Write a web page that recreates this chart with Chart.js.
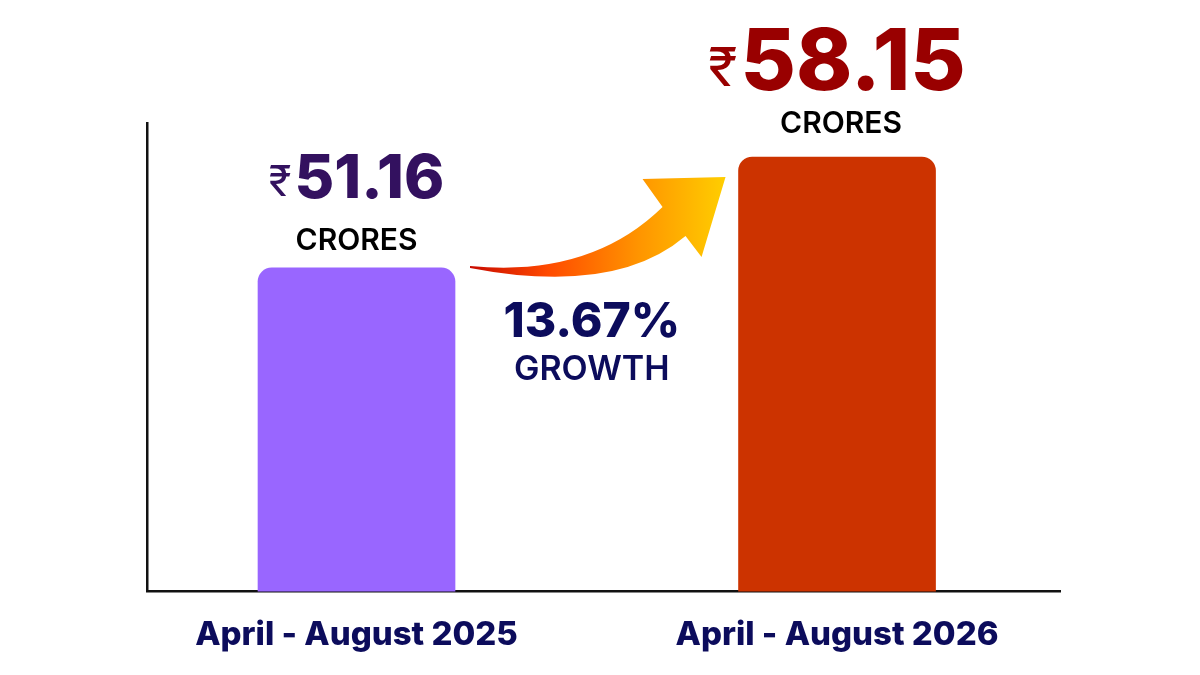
<!DOCTYPE html>
<html>
<head>
<meta charset="utf-8">
<script src="https://cdn.jsdelivr.net/npm/chart.js@4/dist/chart.umd.min.js"></script>
<style>
  html, body { margin: 0; padding: 0; background: #ffffff; }
  #wrap { width: 1200px; height: 675px; }
</style>
</head>
<body>
<div id="wrap"><canvas id="grafico" width="1200" height="675"></canvas></div>
<script>
// dati
var periodi = ['April - August 2025', 'April - August 2026'];
var valori = [51.16, 58.15];           // crore di rupie
var etichette = ['51.16', '58.15'];
var crescita = '13.67%';

var coloriBarre = ['#9966ff', '#cc3300'];
var coloriValori = ['#33115f', '#990000'];
var blu = '#0c0c5c';
var FONT = 'Inter, "Noto Sans", "DejaVu Sans", sans-serif';

// testi sopra le barre + freccia curva
var annotazioni = {
  id: 'annotazioni',
  afterDatasetsDraw: function (chart) {
    var ctx = chart.ctx;
    var barre = chart.getDatasetMeta(0).data;
    ctx.save();

    barre.forEach(function (b, i) {
      var grande = i === 1;
      var sizeNum = grande ? 85 : 61;
      var sizeRs = grande ? 54 : 42;
      ctx.textBaseline = 'alphabetic';
      ctx.font = '800 ' + sizeNum + 'px ' + FONT;
      var wNum = ctx.measureText(etichette[i]).width;
      ctx.font = '400 ' + sizeRs + 'px ' + FONT;
      var wRs = ctx.measureText('₹').width;
      var gap = 3;
      var tot = wRs + gap + wNum;
      var x0 = b.x - tot / 2;
      var base = b.y - (grande ? 67 : 70);
      ctx.fillStyle = coloriValori[i];
      ctx.textAlign = 'left';
      ctx.fillText('₹', x0, base - (grande ? 4 : 2));
      ctx.font = '800 ' + sizeNum + 'px ' + FONT;
      ctx.fillText(etichette[i], x0 + wRs + gap, base);

      ctx.font = '600 30px ' + FONT;
      ctx.fillStyle = '#000000';
      ctx.textAlign = 'center';
      ctx.fillText('CRORES', b.x + (grande ? 4 : 0), b.y - (grande ? 24 : 18));
    });

    // freccia
    var b1 = barre[0], b2 = barre[1];
    var l = b1.x + b1.width / 2;   // bordo destro prima barra
    var t = b1.y;
    var r = b2.x - b2.width / 2;   // bordo sinistro seconda barra
    var t2 = b2.y;
    var g = ctx.createLinearGradient(l + 15, 0, r - 10, 0);
    g.addColorStop(0, '#c80a00');
    g.addColorStop(0.3, '#ff4a00');
    g.addColorStop(0.65, '#ff9400');
    g.addColorStop(1, '#ffd000');
    ctx.fillStyle = g;
    ctx.beginPath();
    ctx.moveTo(l + 15, t - 2);
    ctx.quadraticCurveTo(l + 135, t + 10, r - 76, t2 + 50);
    ctx.lineTo(r - 96, t2 + 22);
    ctx.lineTo(r - 13, t2 + 20);
    ctx.lineTo(r - 37, t2 + 100);
    ctx.lineTo(r - 53, t2 + 79);
    ctx.quadraticCurveTo(l + 160, t + 28, l + 15, t);
    ctx.closePath();
    ctx.fill();

    // crescita
    var cx = (l + r) / 2 - 5;
    ctx.textAlign = 'center';
    ctx.fillStyle = blu;
    ctx.font = '800 48px ' + FONT;
    ctx.fillText(crescita, cx, t + 69);
    ctx.font = '600 34px ' + FONT;
    ctx.fillText('GROWTH', cx, t + 112);

    ctx.restore();
  }
};

var ctx = document.getElementById('grafico').getContext('2d');
var grafico = new Chart(ctx, {
  type: 'bar',
  data: {
    datasets: [{
      data: valori.map(function (v, i) { return { x: i, y: v }; }),
      backgroundColor: coloriBarre,
      borderRadius: { topLeft: 14, topRight: 14 },
      borderSkipped: 'bottom',
      barThickness: 197
    }]
  },
  options: {
    responsive: false,
    animation: false,
    layout: { padding: { left: 147, right: 140, top: 123, bottom: -4 } },
    plugins: { legend: { display: false }, tooltip: { enabled: false } },
    scales: {
      x: {
        type: 'linear',
        offset: false,
        min: -0.436,
        max: 1.464,
        grid: { display: false, drawTicks: false },
        border: { display: true, color: '#111111', width: 2.5 },
        ticks: {
          stepSize: 1,
          autoSkip: false,
          maxRotation: 0,
          padding: 24,
          color: blu,
          font: { family: FONT, size: 33, weight: '800' },
          callback: function (v) {
            return Number.isInteger(v) && periodi[v] ? periodi[v] : '';
          }
        }
      },
      y: {
        min: 30.76,
        max: 60.3,
        grid: { display: false, drawTicks: false },
        border: { display: true, color: '#111111', width: 2.5 },
        ticks: { display: false }
      }
    }
  },
  plugins: [annotazioni]
});
</script>
</body>
</html>
